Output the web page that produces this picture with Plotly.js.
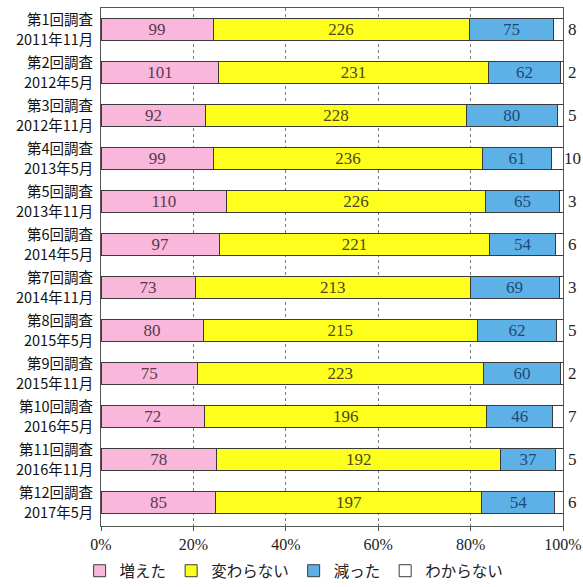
<!DOCTYPE html>
<html>
<head>
<meta charset="utf-8">
<script src="https://cdn.plot.ly/plotly-3.0.1.min.js"></script>
<style>html,body{margin:0;padding:0;background:#fff;}#chart{width:583px;height:587px;}</style>
</head>
<body>
<div id="chart"></div>
<script>
const surveyLabels = ["第1回調査","第2回調査","第3回調査","第4回調査","第5回調査","第6回調査",
  "第7回調査","第8回調査","第9回調査","第10回調査","第11回調査","第12回調査"];
const dateLabels = ["2011年11月","2012年5月","2012年11月","2013年5月","2013年11月","2014年5月",
  "2014年11月","2015年5月","2015年11月","2016年5月","2016年11月","2017年5月"];
const categories = surveyLabels.map((s, i) => s + " " + dateLabels[i]);
const increased = [99,101,92,99,110,97,73,80,75,72,78,85];
const unchanged = [226,231,228,236,226,221,213,215,223,196,192,197];
const decreased = [75,62,80,61,65,54,69,62,60,46,37,54];
const unknown = [8,2,5,10,3,6,3,5,2,7,5,6];
const seriesNames = ["増えた","変わらない","減った","わからない"];
const tickVals = [0,20,40,60,80,100];
const tickText = ["0%","20%","40%","60%","80%","100%"];

const serif = "Liberation Serif, DejaVu Serif, serif";
const jp = "Noto Sans CJK JP, sans-serif";
const line = {color:"#3a3a3a", width:1};

function tr(name, vals, color, tcolor, showText){
  return {
    type:"bar", orientation:"h", name:name, y:categories, x:vals,
    text:showText ? vals.map(String) : null,
    textposition:showText ? "inside" : "none", insidetextanchor:"middle",
    textangle:0, constraintext:"none",
    textfont:{family:serif, size:17, color:tcolor},
    marker:{color:color, line:line}, cliponaxis:false,
    hoverinfo:"none"
  };
}
const data = [
  tr(seriesNames[0], increased, "#F9B7DB", "#5a3a4c", true),
  tr(seriesNames[1], unchanged, "#FFFF1E", "#4a4a1a", true),
  tr(seriesNames[2], decreased, "#5EB1E6", "#1d4a78", true),
  tr(seriesNames[3], unknown, "#FFFFFF", "#222", false)
];
const annotations = [];
unknown.forEach((v, i) => annotations.push({
  x:100, y:categories[i], xref:"x", yref:"y", text:String(v),
  showarrow:false, xanchor:"center", xshift:9,
  font:{family:serif, size:17, color:"#222"}
}));
categories.forEach((c, i) => {
  annotations.push({x:0, y:c, xref:"paper", yref:"y", text:surveyLabels[i],
    showarrow:false, xanchor:"right", xshift:-6, yshift:11,
    font:{family:jp, size:14.5, color:"#111"}});
  annotations.push({x:0, y:c, xref:"paper", yref:"y", text:dateLabels[i],
    showarrow:false, xanchor:"right", xshift:-6, yshift:-9,
    font:{family:jp, size:14.5, color:"#111"}});
});
const layout = {
  width:583, height:587,
  margin:{l:101, r:20, t:8, b:61, autoexpand:false},
  barmode:"stack", barnorm:"percent", bargap:0.49,
  paper_bgcolor:"#fff", plot_bgcolor:"#fff",
  showlegend:true,
  annotations:annotations,
  legend:{orientation:"h", x:0.418, xanchor:"center", xref:"paper",
    y:0.027, yref:"container", yanchor:"middle",
    font:{family:jp, size:15.5, color:"#222"}, traceorder:"normal", itemwidth:30},
  xaxis:{range:[0,100], tickvals:tickVals, ticktext:tickText, automargin:false,
    showgrid:true, gridcolor:"#777", griddash:"dot", gridwidth:1,
    zeroline:false, showline:true, linecolor:"#555", linewidth:1, mirror:true,
    ticks:"outside", ticklen:4, tickcolor:"#555",
    tickfont:{family:serif, size:16, color:"#222"}},
  yaxis:{autorange:"reversed", showline:true, linecolor:"#555", linewidth:1, mirror:true,
    ticks:"", showticklabels:false, automargin:false},
  font:{family:jp}
};
Plotly.newPlot("chart", data, layout, {displayModeBar:false, staticPlot:true});
</script>
</body>
</html>
